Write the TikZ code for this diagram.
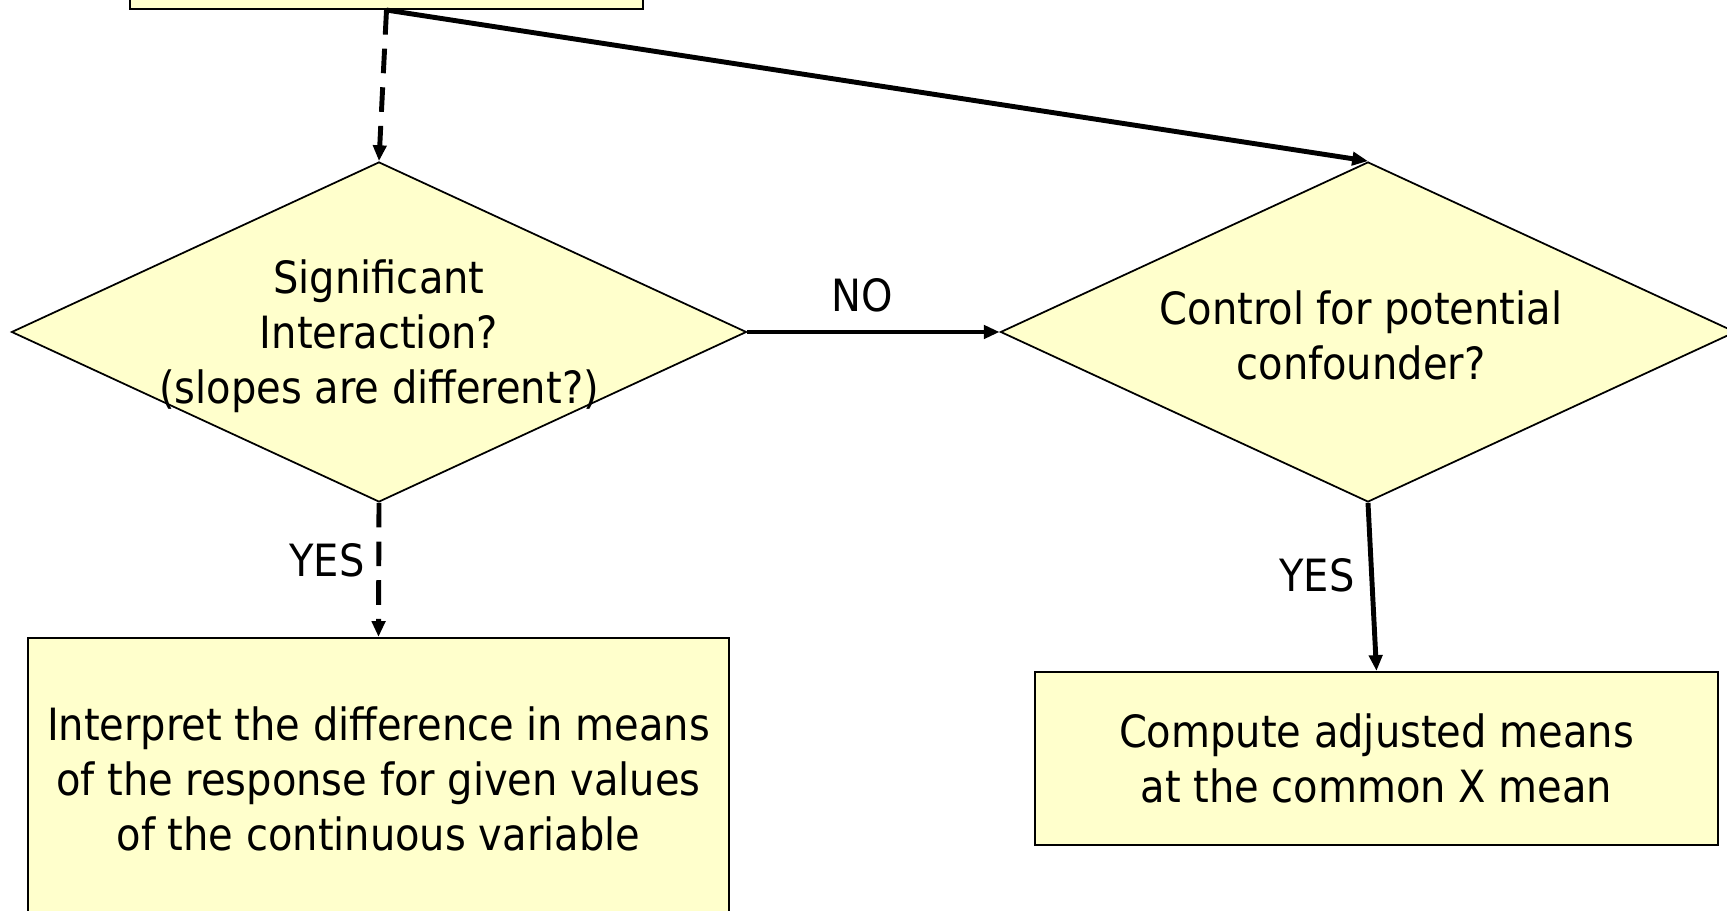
\documentclass[tikz,border=0pt]{standalone}
\usepackage{fontspec}
\setmainfont{DejaVu Sans Condensed}
\usetikzlibrary{shapes.geometric,arrows.meta}

\definecolor{boxyellow}{HTML}{FFFFCC}

\tikzset{
  box/.style={draw, line width=1.2pt, fill=boxyellow, inner sep=0pt},
  decision/.style={diamond, draw, line width=1pt, fill=boxyellow, inner sep=0pt,
    minimum width=14.7cm, minimum height=6.8cm},
  txt/.style={align=center, font=\fontsize{25.3}{31.3}\selectfont},
  flow/.style={line width=2.8pt, -{Triangle[length=9pt,width=7.5pt]}},
  flowdash/.style={flow, dash pattern=on 14pt off 8pt},
}

\begin{document}
\begin{tikzpicture}
    % Page frame
    \useasboundingbox (0,0) rectangle (34.54,18.22);
    \clip (0,0) rectangle (34.54,18.22);

    % Boxes (the top one is cut off by the page)
    \node[box, minimum width=10.26cm, minimum height=2cm] (start) at (7.73,19.04) {};
    \node[box, minimum width=14.02cm, minimum height=5.64cm, txt] (interp) at (7.57,2.64)
        {Interpret the difference in means\\of the response for given values\\of the continuous variable};
    \node[box, minimum width=13.66cm, minimum height=3.46cm, txt] (adjust) at (27.53,3.05)
        {Compute adjusted means\\at the common X mean};

    % Decisions
    \node[decision] (inter) at (7.58,11.58) {};
    \node[txt] (intertext) at (7.58,11.5) {Significant\\Interaction?\\(slopes are different?)};
    \node[decision] (conf) at (27.36,11.58) {};
    \node[txt] (conftext) at (27.22,11.52) {Control for potential\\confounder?};

    % Connectors
    \draw[flowdash] (start.south) -- (inter.north);
    \draw[flow] (start.south) -- (conf.north);
    \draw[flow] (inter.east) -- (conf.west);
    \draw[flowdash] (inter.south) -- (interp.north);
    \draw[flow] (conf.south) -- (adjust.north);

    % Labels
    \node[txt] (no) at (17.24,12.32) {NO};
    \node[txt] (yesl) at (6.54,7.02) {YES};
    \node[txt] (yesr) at (26.34,6.72) {YES};
\end{tikzpicture}
\end{document}
